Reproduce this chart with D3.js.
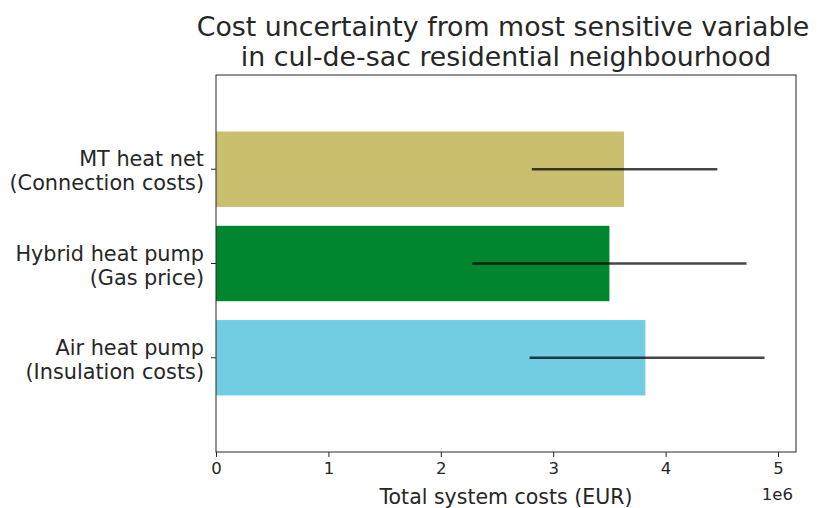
<!DOCTYPE html>
<html>
<head>
<meta charset="utf-8">
<script src="https://cdn.jsdelivr.net/npm/d3@7"></script>
<style>
body{margin:0;background:#fff;}
text{font-family:"DejaVu Sans",sans-serif;fill:#262626;}
</style>
</head>
<body>
<svg id="chart"></svg>
<script>
// values (in EUR, bar = base case, line = low..high)
var labels=[["MT heat net","(Connection costs)"],["Hybrid heat pump","(Gas price)"],["Air heat pump","(Insulation costs)"]];
var costs=[3.63e6,3.50e6,3.82e6];
var lows=[2.81e6,2.28e6,2.79e6];
var highs=[4.46e6,4.72e6,4.88e6];
var colors=["#c9bf6f","#00862f","#72cde3"];
var xticks=[0,1e6,2e6,3e6,4e6,5e6];

var screen={width:825,height:508}
var margins={top:75,right:29,bottom:56,left:216}

var svg=d3.select("#chart")
  .attr("width",screen.width)
  .attr("height",screen.height)

var w=screen.width-margins.left-margins.right
var h=screen.height-margins.top-margins.bottom

var x=d3.scaleLinear().domain([0,5.16e6]).range([0,w])
// category 0 at the top, one unit apart
var y=d3.scaleLinear().domain([-1,3]).range([0,h])
var barH=0.8*(y(1)-y(0))

var g=svg.append("g").attr("transform","translate("+margins.left+","+margins.top+")")

g.selectAll(".bar").data(costs).enter()
  .append("rect").attr("class","bar")
  .attr("x",x(0))
  .attr("y",function(d,i){return y(i)-barH/2})
  .attr("width",function(d){return x(d)-x(0)})
  .attr("height",barH)
  .style("fill",function(d,i){return colors[i]})

g.selectAll(".err").data(lows).enter()
  .append("line").attr("class","err")
  .attr("x1",function(d){return x(d)})
  .attr("x2",function(d,i){return x(highs[i])})
  .attr("y1",function(d,i){return y(i)})
  .attr("y2",function(d,i){return y(i)})
  .style("stroke","#000").style("stroke-opacity",0.72).style("stroke-width",2.6)

// x axis
var xAxis=g.append("g").attr("transform","translate(0,"+h+")")
  .call(d3.axisBottom(x).tickValues(xticks).tickFormat(function(d){return d/1e6}).tickSize(5).tickPadding(5))
xAxis.select(".domain").remove()
xAxis.selectAll("line").style("stroke","#262626").style("stroke-width",1)
xAxis.selectAll("text").style("font-size","16.5px").style("font-family","DejaVu Sans").style("fill","#262626")

// y ticks and two-line labels
var yt=g.selectAll(".ytick").data(labels).enter().append("g").attr("class","ytick")
  .attr("transform",function(d,i){return "translate(0,"+y(i)+")"})
yt.append("line").attr("x1",-5).attr("x2",0).style("stroke","#262626")
var yl=yt.append("text").attr("text-anchor","end").style("font-size","20.8px")
yl.append("tspan").attr("x",-12).attr("y",-3).text(function(d){return d[0]})
yl.append("tspan").attr("x",-12).attr("y",21).text(function(d){return d[1]})

// frame
g.append("rect").attr("width",w).attr("height",h)
  .style("fill","none").style("stroke","#262626").style("stroke-width",1)

svg.append("text").attr("x",margins.left+w/2).attr("y",504).attr("text-anchor","middle")
  .style("font-size","20.5px").text("Total system costs (EUR)")
svg.append("text").attr("x",793).attr("y",500).attr("text-anchor","end")
  .style("font-size","16.5px").text("1e6")

var title=svg.append("text").attr("text-anchor","middle").style("font-size","26.8px")
title.append("tspan").attr("x",margins.left+w/2-3).attr("y",36).text("Cost uncertainty from most sensitive variable")
title.append("tspan").attr("x",margins.left+w/2).attr("y",66).text("in cul-de-sac residential neighbourhood")
</script>
</body>
</html>
